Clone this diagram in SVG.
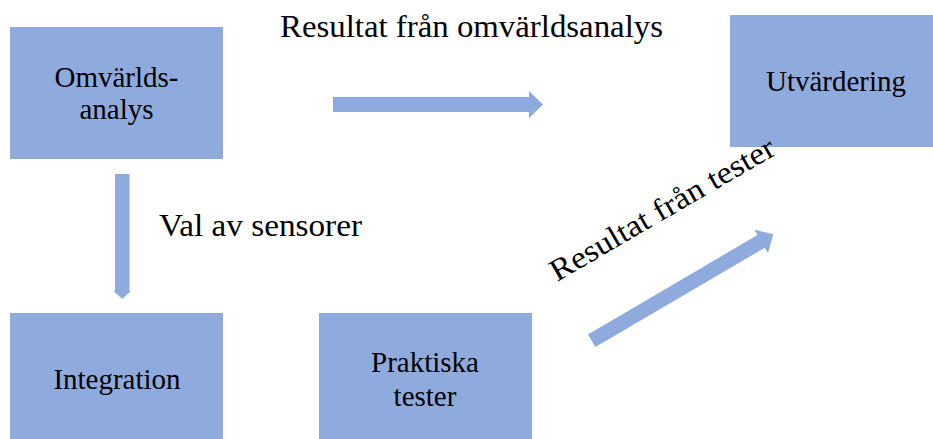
<svg xmlns="http://www.w3.org/2000/svg" width="933" height="439" viewBox="0 0 933 439">
  <style>
    .box { fill: #8FAADC; }
    .arrow { fill: #8FAADC; }
    .label { font-family: "Liberation Serif", "Times New Roman", serif; font-size: 29px; fill: #000; text-anchor: middle; }
    .note { font-family: "Liberation Serif", "Times New Roman", serif; font-size: 31px; fill: #000; }
  </style>
  <rect width="933" height="439" fill="#ffffff"/>

  <g id="omvarldsanalys">
    <rect class="box" x="10" y="27" width="213" height="132"/>
    <text class="label" x="116.5" y="87">Omvärlds-</text>
    <text class="label" x="116.5" y="119">analys</text>
  </g>

  <g id="utvardering">
    <rect class="box" x="730" y="15" width="213" height="132"/>
    <text class="label" x="836" y="91">Utvärdering</text>
  </g>

  <g id="integration">
    <rect class="box" x="10" y="313" width="213" height="132"/>
    <text class="label" x="117" y="389">Integration</text>
  </g>

  <g id="praktiska-tester">
    <rect class="box" x="319" y="313" width="213" height="132"/>
    <text class="label" x="425" y="372">Praktiska</text>
    <text class="label" x="425" y="406">tester</text>
  </g>

  <g id="connectors">
    <!-- Omvärldsanalys to Utvärdering -->
    <polygon class="arrow" points="333,97 529,97 529,91 543,104.5 529,118 529,112 333,112"/>
    <text class="note" x="280" y="37" textLength="383" lengthAdjust="spacingAndGlyphs">Resultat från omvärldsanalys</text>

    <!-- Omvärldsanalys to Integration -->
    <polygon class="arrow" points="115,174 129.5,174 129.5,291 131,291 122.2,299 113.5,291 115,291"/>
    <text class="note" x="159" y="236" textLength="203" lengthAdjust="spacingAndGlyphs">Val av sensorer</text>

    <!-- Praktiska tester to Utvärdering -->
    <polygon class="arrow" transform="translate(591.7,340.8) rotate(-30.4)" points="0,-7.3 196.5,-7.3 196.5,-13.4 210.5,0 196.5,13.4 196.5,7.3 0,7.3"/>
    <text class="note" transform="translate(557,282) rotate(-30.2)" x="0" y="0" textLength="255" lengthAdjust="spacingAndGlyphs">Resultat från tester</text>
  </g>
</svg>
